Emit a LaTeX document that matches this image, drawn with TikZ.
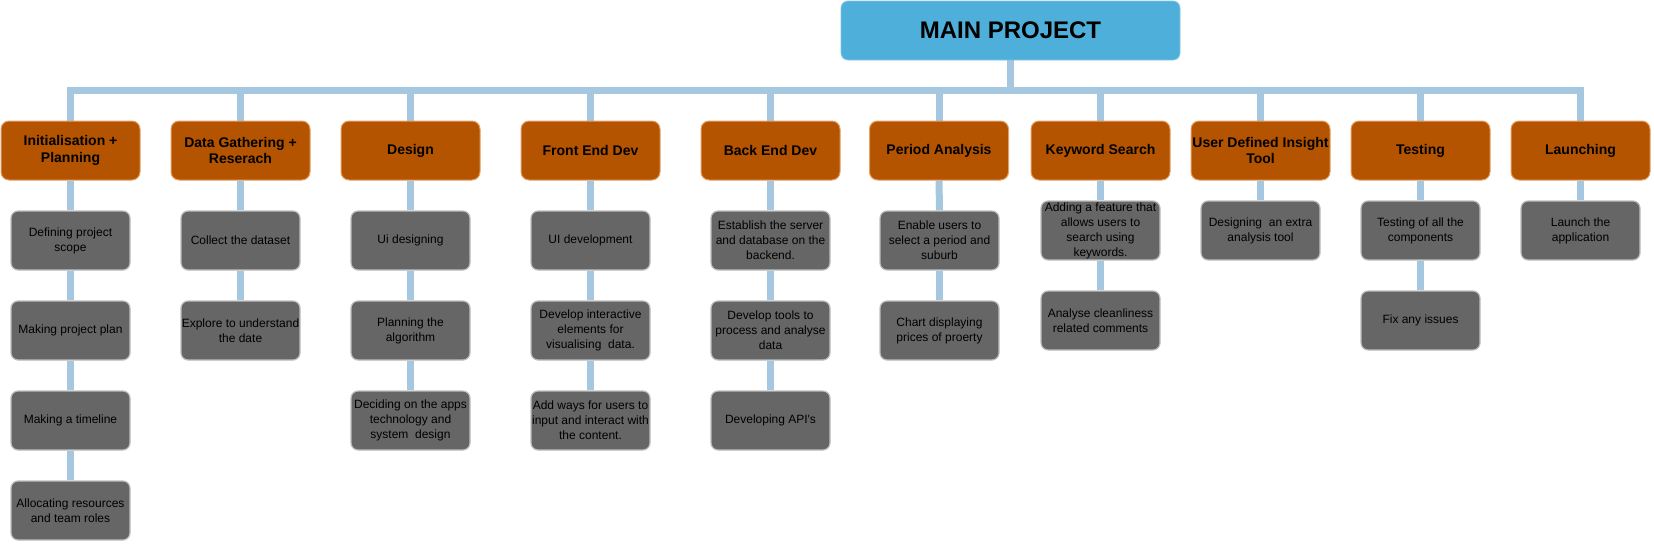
\documentclass[tikz,border=0pt]{standalone}
\usepackage{fontspec}
\setmainfont{Liberation Sans}
\usetikzlibrary{backgrounds}
\definecolor{mainblue}{RGB}{78,175,218}
\definecolor{catorange}{RGB}{180,84,0}
\definecolor{catborder}{RGB}{228,160,100}
\definecolor{subgray}{RGB}{102,102,102}
\definecolor{subborder}{RGB}{190,190,190}
\definecolor{connblue}{RGB}{166,199,224}
\tikzset{
 mainbox/.style={draw=mainblue!70!white, line width=0.8pt, fill=mainblue, rounded corners=7pt, minimum width=339pt, minimum height=59pt, font=\fontsize{24}{28}\selectfont\bfseries, inner sep=0pt},
 catbox/.style={draw=catborder, line width=1pt, fill=catorange, rounded corners=8pt, minimum width=139pt, minimum height=59pt, font=\fontsize{14}{16.5}\selectfont\bfseries, align=center, inner sep=0pt},
 subbox/.style={draw=subborder, line width=1.2pt, fill=subgray, rounded corners=7pt, minimum width=119pt, minimum height=59pt, font=\fontsize{12}{15}\selectfont, align=center, inner sep=0pt, text=black},
 conn/.style={draw=connblue, line width=7pt},
}
\begin{document}
\begin{tikzpicture}[x=1pt,y=-1pt]
\useasboundingbox (0,0) rectangle (1654,544);
\node[mainbox] (main) at (1010.5,30.5) {MAIN PROJECT};
\coordinate (bus) at (0,90.5);
% categories
\node[catbox] (c1) at (70.5,150.5) {Initialisation +\\Planning};
\node[catbox] (c2) at (240.5,150.5) {Data Gathering +\\Reserach};
\node[catbox] (c3) at (410.5,150.5) {Design};
\node[catbox] (c4) at (590.5,150.5) {Front End Dev};
\node[catbox] (c5) at (770.5,150.5) {Back End Dev};
\node[catbox] (c6) at (939,150.5) {Period Analysis};
\node[catbox] (c7) at (1100.5,150.5) {Keyword Search};
\node[catbox] (c8) at (1260.5,150.5) {User Defined Insight\\Tool};
\node[catbox] (c9) at (1420.5,150.5) {Testing};
\node[catbox] (c10) at (1580.5,150.5) {Launching};
% subtasks
\node[subbox] (s11) at (70.5,240.5) {Defining project\\scope};
\node[subbox] (s12) at (70.5,330.5) {Making project plan};
\node[subbox] (s13) at (70.5,420.5) {Making a timeline};
\node[subbox] (s14) at (70.5,510.5) {Allocating resources\\and team roles};
\node[subbox] (s21) at (240.5,240.5) {Collect the dataset};
\node[subbox] (s22) at (240.5,330.5) {Explore to understand\\the date};
\node[subbox] (s31) at (410.5,240.5) {Ui designing};
\node[subbox] (s32) at (410.5,330.5) {Planning the\\algorithm};
\node[subbox] (s33) at (410.5,420.5) {Deciding on the apps\\technology and\\system\ \ design};
\node[subbox] (s41) at (590.5,240.5) {UI development};
\node[subbox] (s42) at (590.5,330.5) {Develop interactive\\elements for\\visualising\ \ data.};
\node[subbox] (s43) at (590.5,420.5) {Add ways for users to\\input and interact with\\the content.};
\node[subbox] (s51) at (770.5,240.5) {Establish the server\\and database on the\\backend.};
\node[subbox] (s52) at (770.5,330.5) {Develop tools to\\process and analyse\\data};
\node[subbox] (s53) at (770.5,420.5) {Developing API\textquotesingle s};
\node[subbox] (s61) at (939.5,240.5) {Enable users to\\select a period and\\suburb};
\node[subbox] (s62) at (939.5,330.5) {Chart displaying\\prices of proerty};
\node[subbox] (s71) at (1100.5,230.5) {Adding a feature that\\allows users to\\search using\\keywords.};
\node[subbox] (s72) at (1100.5,320.5) {Analyse cleanliness\\related comments};
\node[subbox] (s81) at (1260.5,230.5) {Designing\ \ an extra\\analysis tool};
\node[subbox] (s91) at (1420.5,230.5) {Testing of all the\\components};
\node[subbox] (s92) at (1420.5,320.5) {Fix any issues};
\node[subbox] (s101) at (1580.5,230.5) {Launch the\\application};
\begin{scope}[on background layer]
\foreach \c in {c1,c2,c3,c4,c5,c6,c7,c8,c9,c10}{
  \draw[conn] (main.south) -- (main.south |- bus) -| (\c.north);
}
\draw[conn] (c1.south) -- (s11.north);
\draw[conn] (s11.south) -- (s12.north);
\draw[conn] (s12.south) -- (s13.north);
\draw[conn] (s13.south) -- (s14.north);
\draw[conn] (c2.south) -- (s21.north);
\draw[conn] (s21.south) -- (s22.north);
\draw[conn] (c3.south) -- (s31.north);
\draw[conn] (s31.south) -- (s32.north);
\draw[conn] (s32.south) -- (s33.north);
\draw[conn] (c4.south) -- (s41.north);
\draw[conn] (s41.south) -- (s42.north);
\draw[conn] (s42.south) -- (s43.north);
\draw[conn] (c5.south) -- (s51.north);
\draw[conn] (s51.south) -- (s52.north);
\draw[conn] (s52.south) -- (s53.north);
\draw[conn] (c6.south) -- (s61.north);
\draw[conn] (s61.south) -- (s62.north);
\draw[conn] (c7.south) -- (s71.north);
\draw[conn] (s71.south) -- (s72.north);
\draw[conn] (c8.south) -- (s81.north);
\draw[conn] (c9.south) -- (s91.north);
\draw[conn] (s91.south) -- (s92.north);
\draw[conn] (c10.south) -- (s101.north);
\end{scope}
\end{tikzpicture}
\end{document}
